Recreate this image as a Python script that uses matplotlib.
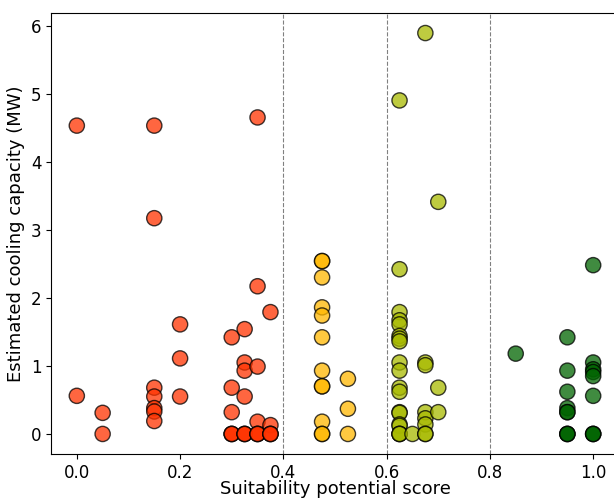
import matplotlib

matplotlib.use("Agg")

import matplotlib.pyplot as plt
import numpy as np

# suitability score per site
scores = (
    [0.0, 0.0]
    + [0.05, 0.05]
    + [0.15] * 7
    + [0.2] * 3
    + [0.3] * 6
    + [0.325] * 7
    + [0.35] * 7
    + [0.375] * 5
    + [0.475] * 12
    + [0.525] * 3
    + [0.625] * 19
    + [0.65]
    + [0.675] * 8
    + [0.7] * 3
    + [0.85]
    + [0.95] * 9
    + [1.0] * 9
)

# estimated cooling capacity (MW)
capacity = (
    [4.53, 0.56]
    + [0.31, 0.0]
    + [4.53, 3.17, 0.68, 0.55, 0.38, 0.33, 0.19]
    + [1.61, 1.11, 0.55]
    + [1.42, 0.68, 0.32, 0.0, 0.0, 0.0]
    + [1.54, 1.05, 0.93, 0.55, 0.0, 0.0, 0.0]
    + [4.65, 2.17, 0.99, 0.18, 0.0, 0.0, 0.0]
    + [1.79, 0.13, 0.0, 0.0, 0.0]
    + [2.54, 2.54, 2.30, 1.86, 1.74, 1.42, 0.93, 0.70, 0.70, 0.18, 0.0, 0.0]
    + [0.81, 0.37, 0.0]
    + [4.90, 2.42, 1.79, 1.67, 1.61, 1.44, 1.40, 1.36, 1.05, 0.93, 0.68, 0.62,
       0.32, 0.31, 0.14, 0.12, 0.0, 0.0, 0.0]
    + [0.0]
    + [5.89, 1.05, 1.01, 0.32, 0.23, 0.14, 0.0, 0.0]
    + [3.41, 0.68, 0.32]
    + [1.18]
    + [1.42, 0.93, 0.62, 0.38, 0.32, 0.32, 0.0, 0.0, 0.0]
    + [2.48, 1.05, 0.95, 0.91, 0.85, 0.56, 0.0, 0.0, 0.0]
)

bin_edges = [0.4, 0.6, 0.8]
bin_colors = ["#ff3300", "#ffb800", "#a8ba00", "#006400"]

scores = np.array(scores)
capacity = np.array(capacity)
colors = [bin_colors[i] for i in np.digitize(scores, bin_edges)]

fig = plt.figure(figsize=(6.14, 4.98), dpi=100)
ax = fig.add_axes([51 / 614, 44 / 498, 568 / 614, 441 / 498])

ax.scatter(scores, capacity, c=colors, s=120, alpha=0.75,
           edgecolors="black", linewidths=1, zorder=3)

for edge in bin_edges:
    ax.axvline(edge, color="gray", linestyle="--", linewidth=0.8, zorder=1)

ax.set_xlabel("Suitability potential score", fontsize=13, labelpad=-1)
ax.set_ylabel("Estimated cooling capacity (MW)", fontsize=13)
ax.tick_params(labelsize=12)

fig.savefig("out.png", dpi=100)
